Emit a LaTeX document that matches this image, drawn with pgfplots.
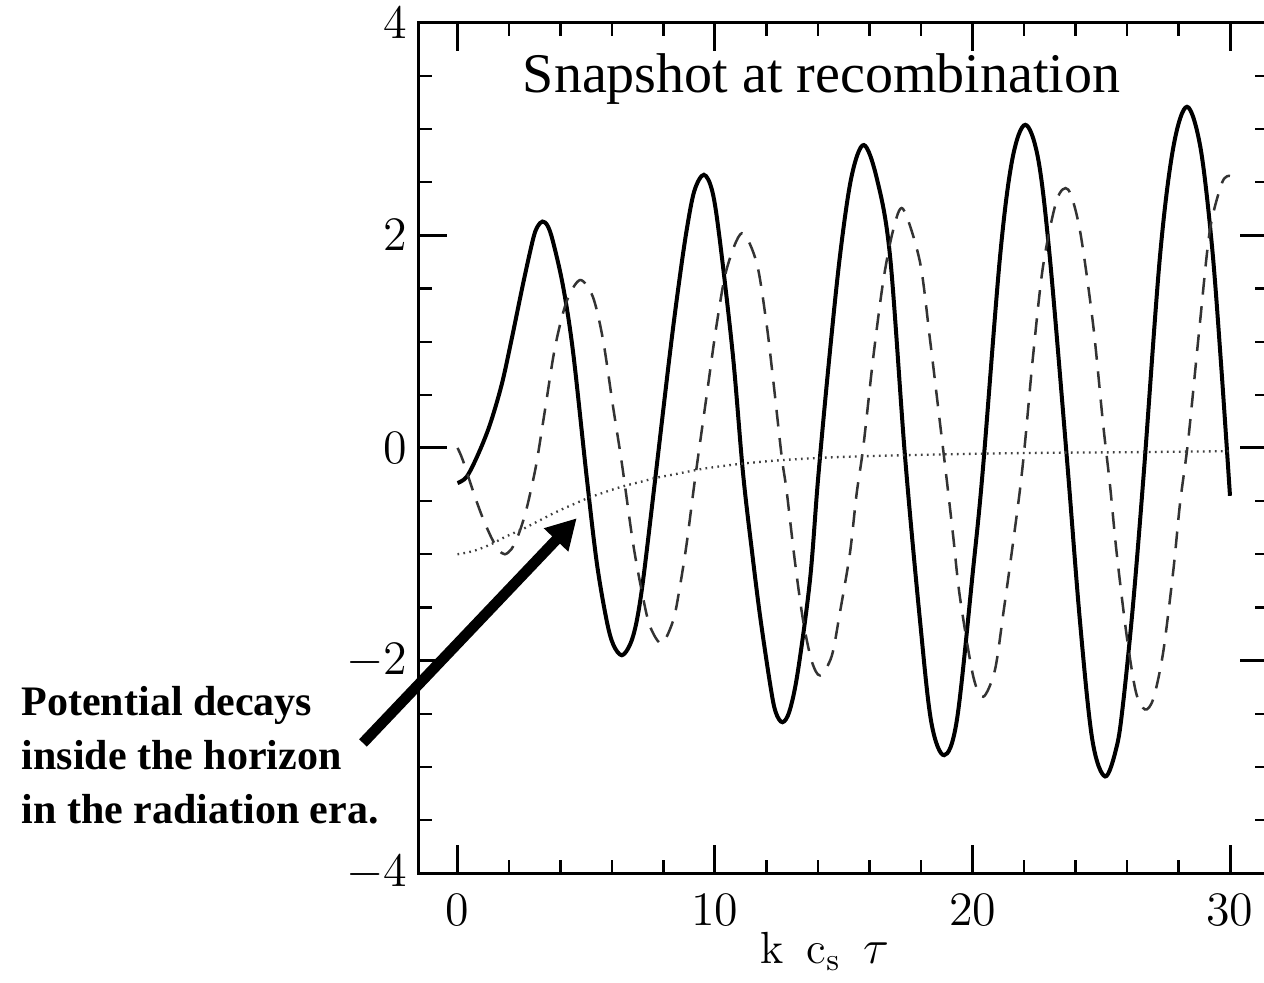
\documentclass[border=0pt]{standalone}
\usepackage{fontspec}
\usepackage{pgfplots}
\pgfplotsset{compat=1.18}
\usetikzlibrary{arrows.meta}
\newfontfamily\tnr{Liberation Serif}

% Solid curve
\pgfplotstableread{
x y
0 -0.33
0.36 -0.27
0.8 -0.06
1.26 0.22
1.72 0.60
2.1 1.02
2.56 1.56
2.93 1.96
3.1 2.08
3.3 2.13
3.5 2.09
3.71 1.94
4.1 1.52
4.49 0.90
5.02 -0.28
5.41 -1.08
5.79 -1.62
6.05 -1.85
6.38 -1.95
6.7 -1.85
6.95 -1.64
7.21 -1.24
7.65 -0.35
8.25 0.89
8.6 1.55
8.9 2.05
9.2 2.42
9.57 2.57
9.9 2.41
10.19 1.95
10.7 0.86
11.09 -0.24
11.45 -1.00
11.75 -1.58
12.14 -2.22
12.35 -2.48
12.62 -2.58
12.9 -2.47
13.22 -2.10
13.69 -1.24
14.0 -0.30
14.4 0.75
14.85 1.80
15.3 2.55
15.78 2.85
16.3 2.52
16.8 1.80
17.38 -0.08
17.96 -1.62
18.4 -2.58
18.9 -2.89
19.4 -2.55
20.02 -1.15
20.4 -0.21
21.07 1.80
21.55 2.72
22.05 3.04
22.55 2.72
23.0 1.80
23.66 -0.08
24.17 -1.62
24.65 -2.74
25.15 -3.09
25.6 -2.81
25.85 -2.40
26.24 -1.46
26.66 -0.21
27.28 1.80
27.8 2.83
28.33 3.21
28.85 2.83
29.3 1.90
29.65 0.80
30.0 -0.45
}\solidtab

% Dashed curve
\pgfplotstableread{
x y
0 0
0.2 -0.11
0.68 -0.46
1.0 -0.67
1.33 -0.85
1.6 -0.96
1.84 -1.0
2.1 -0.95
2.36 -0.82
2.62 -0.63
2.82 -0.43
3.07 -0.14
3.4 0.36
3.79 0.95
4.24 1.38
4.76 1.58
5.26 1.42
5.65 1.02
6.04 0.39
6.38 -0.14
6.82 -0.90
7.2 -1.40
7.48 -1.68
7.93 -1.84
8.38 -1.62
8.64 -1.30
8.9 -0.90
9.22 -0.30
9.68 0.50
10.07 1.17
10.45 1.68
11.04 2.02
11.62 1.74
12.0 1.17
12.26 0.64
12.59 -0.08
12.78 -0.40
13.11 -1.08
13.42 -1.62
13.75 -2.00
14.08 -2.14
14.53 -1.96
14.85 -1.55
15.24 -0.99
15.5 -0.43
15.76 0.01
16.15 0.86
16.54 1.58
16.92 2.05
17.3 2.25
17.96 1.75
18.35 1.02
18.74 0.23
19.0 -0.30
19.25 -0.83
19.51 -1.40
20.03 -2.15
20.42 -2.34
20.87 -2.09
21.2 -1.55
21.52 -0.99
21.84 -0.40
22.04 0.05
22.35 0.86
22.74 1.71
23.27 2.33
23.72 2.43
24.17 2.05
24.68 1.17
25.07 0.23
25.34 -0.35
25.6 -0.99
25.99 -1.77
26.35 -2.30
26.7 -2.46
27.02 -2.36
27.4 -1.93
27.8 -1.15
28.06 -0.52
28.38 0.08
28.83 1.17
29.22 2.05
29.7 2.50
30.0 2.56
}\dashtab

% Dotted curve
\pgfplotstableread{
x y
0 -1.0
0.61 -0.97
1.26 -0.91
1.91 -0.83
2.56 -0.76
3.2 -0.68
3.85 -0.60
4.5 -0.53
5.08 -0.47
5.79 -0.41
6.44 -0.36
7.09 -0.32
7.73 -0.28
8.38 -0.25
9.0 -0.22
9.68 -0.19
10.97 -0.15
12.26 -0.12
13.56 -0.10
14.85 -0.085
17 -0.07
20 -0.055
23 -0.045
26 -0.04
30 -0.03
}\dottab

\begin{document}
\begin{tikzpicture}
\begin{axis}[
  scale only axis,
  width=254.925pt, height=255.12pt,
  xmin=-1.5, xmax=31.5, ymin=-4, ymax=4,
  xtick={0,10,20,30}, ytick={-4,-2,0,2,4},
  minor x tick num=4, minor y tick num=3,
  tick align=inside,
  major tick length=8.5pt, minor tick length=4pt,
  major tick style={black, line width=0.9pt},
  minor tick style={black, line width=0.7pt},
  axis line style={line width=0.9pt},
  tick label style={font=\fontsize{13.5}{16}\selectfont},
  xticklabel style={yshift=-3pt},
  clip=false,
]
\addplot[black, line width=1.2pt, smooth, tension=0.55] table[x=x,y=y] {\solidtab};
\addplot[black!80, line width=0.75pt, smooth, tension=0.5, dash pattern=on 5pt off 3.5pt] table[x=x,y=y] {\dashtab};
\addplot[black!75, line width=0.7pt, smooth, dash pattern=on 0.5pt off 1.3pt] table[x=x,y=y] {\dottab};

\node[anchor=base, inner sep=0pt, font=\tnr\fontsize{16.8}{20}\selectfont]
  at (axis cs:14.14,3.34) {Snapshot at recombination};

\node[anchor=base, inner sep=0pt, font=\fontsize{13.5}{16}\selectfont]
  at (axis cs:14.27,-4.85) {$\mathrm{k}\ \,\mathrm{c}_{\mathrm{s}}\ \,\tau$};

\node[anchor=base west, inner sep=0pt, font=\tnr\bfseries\fontsize{12.6}{16}\selectfont]
  at (axis cs:-16.95,-2.512) {Potential decays};
\node[anchor=base west, inner sep=0pt, font=\tnr\bfseries\fontsize{12.6}{16}\selectfont]
  at (axis cs:-16.95,-3.020) {inside the horizon};
\node[anchor=base west, inner sep=0pt, font=\tnr\bfseries\fontsize{12.6}{16}\selectfont]
  at (axis cs:-16.95,-3.528) {in the radiation era.};

\draw[line width=3.2pt, -{Triangle[length=9pt,width=9.5pt]}]
  (axis cs:-3.67,-2.775) -- (axis cs:4.63,-0.661);

\coordinate (bbsw) at (axis cs:-17.767,-5.033);
\coordinate (bbne) at (axis cs:31.32,4.2145);
\end{axis}
\pgfresetboundingbox
\useasboundingbox (bbsw) rectangle (bbne);
\end{tikzpicture}
\end{document}
